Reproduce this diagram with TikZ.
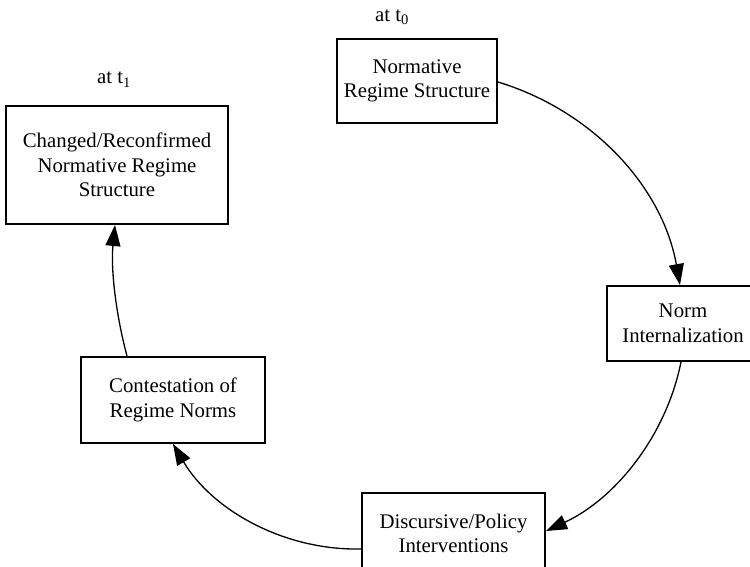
\documentclass[tikz,border=0pt]{standalone}
\usepackage{fontspec}
\setmainfont{Liberation Serif}
\usetikzlibrary{arrows.meta}
\begin{document}
\begin{tikzpicture}[x=1pt,y=-1pt,
  box/.style={draw, line width=2pt, align=center, inner sep=0pt,
    font=\fontsize{20.8}{24.5}\selectfont},
  flow/.style={line width=1.3pt, -{Triangle[length=21pt,width=15pt]}},
  lbl/.style={inner sep=0pt, anchor=base west, font=\fontsize{20.8}{24.5}\selectfont}]
\useasboundingbox (0,0) rectangle (750,567);
\fill[white] (0,0) rectangle (750,567);
\clip (0,0) rectangle (750,567);
% boxes
\node[box, minimum width=160pt, minimum height=84pt] (T) at (417,81) {Normative\\Regime Structure};
\node[box, minimum width=222pt, minimum height=118pt] (C) at (117,165) {Changed/Reconfirmed\\Normative Regime\\Structure};
\node[box, minimum width=152pt, minimum height=75pt] (N) at (683,323.5) {Norm\\Internalization};
\node[box, minimum width=183pt, minimum height=81pt] (D) at (453.5,533.5) {Discursive/Policy\\Interventions};
\node[box, minimum width=184pt, minimum height=86pt] (K) at (173,400) {Contestation of\\Regime Norms};
% labels
\node[lbl] (t0) at (375,21.7) {at t\textsubscript{0}};
\node[lbl] (t1) at (97,84) {at t\textsubscript{1}};
% connectors
\draw[flow] ([yshift=-1pt]T.east) .. controls +(95,29) and +(-17.5,-98) .. ([xshift=-3pt]N.north);
\draw[flow] ([xshift=-2pt]N.south) .. controls +(-15,74.5) and +(69,-32) .. ([yshift=2.5pt]D.east);
\draw[flow] ([yshift=-15.5pt]D.west) .. controls +(-77,1.6) and +(39.3,66.2) .. (K.south);
\draw[flow] ([xshift=-46pt]K.north) .. controls +(-11.3,-42.2) and +(-4.3,43.5) .. ([xshift=-2pt]C.south);
\end{tikzpicture}
\end{document}
